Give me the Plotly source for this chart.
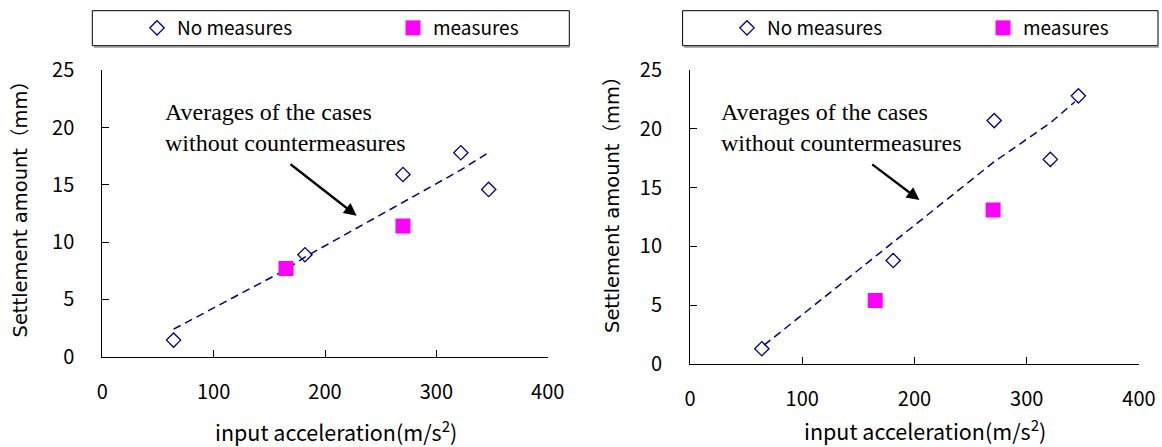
import plotly.graph_objects as go

# ---------------- data ----------------
left_no_x = [64, 182, 270, 322, 347]
left_no_y = [1.45, 8.9, 15.9, 17.8, 14.6]
left_m_x = [165, 270]
left_m_y = [7.7, 11.4]
left_avg_x = [64, 165, 182, 270, 322, 345]
left_avg_y = [2.4, 7.6, 8.7, 13.5, 16.3, 17.7]

right_no_x = [64, 181, 271, 321, 346]
right_no_y = [1.3, 8.8, 20.7, 17.4, 22.8]
right_m_x = [165, 270]
right_m_y = [5.4, 13.1]
right_avg_x = [66, 165, 181, 271, 321, 343]
right_avg_y = [1.6, 9.1, 10.3, 17.2, 20.5, 22.3]

x_ticks = [0, 100, 200, 300, 400]
y_ticks = [0, 5, 10, 15, 20, 25]

x_title = "input acceleration(m/s<sup>2</sup>)"
y_title = "Settlement amount（mm）"
note = "Averages of the cases<br>without countermeasures"

W, H = 1162, 447
NAVY = "#000080"
MAG = "#FF00FF"
GOTH = "Noto Sans CJK JP, Noto Sans, sans-serif"
WIDE = "DejaVu Sans, Noto Sans CJK JP, sans-serif"
SERIF = "Liberation Serif, Times New Roman, serif"

fig = go.Figure()

def add_panel(xa, ya, leg, no_x, no_y, m_x, m_y, avg_x, avg_y):
    fig.add_trace(go.Scatter(x=avg_x, y=avg_y, mode="lines", xaxis=xa, yaxis=ya,
                             line=dict(color=NAVY, width=1.5, dash="8px,5px"),
                             showlegend=False, hoverinfo="skip"))
    fig.add_trace(go.Scatter(x=no_x, y=no_y, mode="markers", name="No measures",
                             xaxis=xa, yaxis=ya, legend=leg,
                             marker=dict(symbol="diamond-open", size=11, color=NAVY,
                                         line=dict(color=NAVY, width=1.3))))
    fig.add_trace(go.Scatter(x=m_x, y=m_y, mode="markers", name="measures",
                             xaxis=xa, yaxis=ya, legend=leg,
                             marker=dict(symbol="square", size=15, color=MAG,
                                         line=dict(width=0))))

add_panel("x", "y", "legend", left_no_x, left_no_y, left_m_x, left_m_y, left_avg_x, left_avg_y)
add_panel("x2", "y2", "legend2", right_no_x, right_no_y, right_m_x, right_m_y, right_avg_x, right_avg_y)

xax = dict(range=[0, 400], tickvals=x_ticks, showline=True, linecolor="black", linewidth=1,
           ticks="inside", ticklen=7, tickcolor="black", showgrid=False, zeroline=False,
           automargin=False,
           tickfont=dict(family=GOTH, size=20, color="black"), ticklabelstandoff=17)
yax = dict(range=[0, 25], tickvals=y_ticks, showline=True, linecolor="black", linewidth=1,
           ticks="inside", ticklen=7, tickcolor="black", showgrid=False, zeroline=False,
           automargin=False,
           tickfont=dict(family=GOTH, size=20, color="black"), ticklabelstandoff=23)

leg_common = dict(orientation="h", y=1 - 28 / H, yanchor="middle", xanchor="left",
                  bgcolor="rgba(0,0,0,0)", borderwidth=0, entrywidth=211,
                  entrywidthmode="pixels", itemwidth=30,
                  font=dict(family=GOTH, size=19, color="black"))

def title_ann(x, y, text, angle, family, size):
    return dict(x=x / W, y=1 - y / H, xref="paper", yref="paper", xanchor="center",
                yanchor="middle", text=text, showarrow=False, textangle=angle,
                font=dict(family=family, size=size, color="black"))

fig.update_layout(
    width=W, height=H, margin=dict(l=0, r=0, t=0, b=0, autoexpand=False),
    paper_bgcolor="white", plot_bgcolor="white",
    xaxis=dict(xax, domain=[102.3 / W, 547.7 / W], anchor="y"),
    yaxis=dict(yax, domain=[1 - 356.7 / H, 1 - 70.3 / H], anchor="x"),
    xaxis2=dict(xax, domain=[690 / W, 1139 / W], anchor="y2"),
    yaxis2=dict(yax, domain=[1 - 364 / H, 1 - 70 / H], anchor="x2"),
    legend=dict(leg_common, x=137 / W),
    legend2=dict(leg_common, x=727 / W),
    shapes=[
        dict(type="line", xref="paper", yref="paper", x0=94 / W, x1=570 / W,
             y0=1 - 47 / H, y1=1 - 47 / H, line=dict(color="#9a9a9a", width=1.5)),
        dict(type="rect", xref="paper", yref="paper", x0=92.3 / W, x1=569.3 / W,
             y0=1 - 45.7 / H, y1=1 - 10.7 / H, line=dict(color="black", width=1)),
        dict(type="line", xref="paper", yref="paper", x0=684 / W, x1=1159 / W,
             y0=1 - 47 / H, y1=1 - 47 / H, line=dict(color="#9a9a9a", width=1.5)),
        dict(type="rect", xref="paper", yref="paper", x0=682.6 / W, x1=1158 / W,
             y0=1 - 45.7 / H, y1=1 - 10.7 / H, line=dict(color="black", width=1)),
    ],
    annotations=[
        title_ann(336, 431, x_title, 0, GOTH, 21.5),
        title_ann(925, 430, x_title, 0, GOTH, 21.5),
        title_ann(20, 204.5, y_title, -90, WIDE, 19.5),
        title_ann(612, 200, y_title, -90, WIDE, 19.5),
        dict(x=54.5, y=20.05, xref="x", yref="y", xanchor="left", yanchor="middle", align="left",
             text=note, showarrow=False,
             font=dict(family=SERIF, size=24, color="black")),
        dict(x=228.4, y=12.3, ax=167.7, ay=16.9, xref="x", yref="y", axref="x", ayref="y",
             text="", showarrow=True, arrowhead=2, arrowsize=1.1, arrowwidth=2.3,
             arrowcolor="black"),
        dict(x=26, y=20.15, xref="x2", yref="y2", xanchor="left", yanchor="middle", align="left",
             text=note, showarrow=False,
             font=dict(family=SERIF, size=24, color="black")),
        dict(x=204.4, y=13.95, ax=161, ay=17.07, xref="x2", yref="y2", axref="x2", ayref="y2",
             text="", showarrow=True, arrowhead=2, arrowsize=1.1, arrowwidth=2.3,
             arrowcolor="black"),
    ],
)

fig.write_html("out.html", config={"displayModeBar": False},
               post_script="document.body.style.margin='0';")
